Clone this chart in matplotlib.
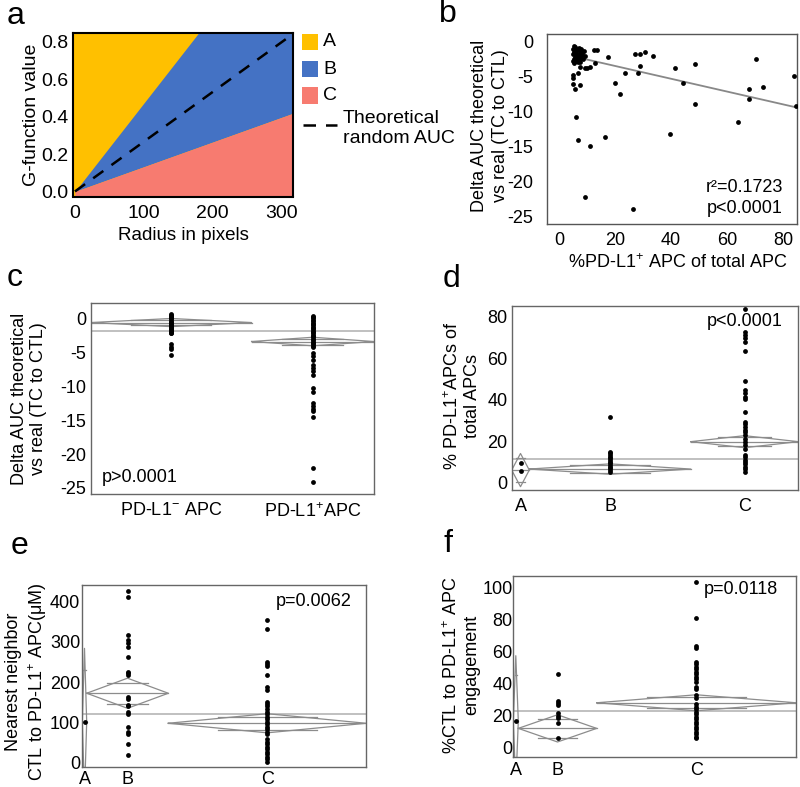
import numpy as np
import matplotlib
matplotlib.use("Agg")
import matplotlib.pyplot as plt
from matplotlib.patches import Rectangle
from matplotlib.lines import Line2D

plt.rcParams['font.family'] = ['Liberation Sans', 'DejaVu Sans']
plt.rcParams['mathtext.default'] = 'regular'
plt.rcParams['axes.unicode_minus'] = False

# ---- panel a : G-function regions
a_slope_A = 0.00472
a_slope_rand = 0.00266
a_slope_C = 0.00132
a_xlim = (-2.4, 316.8)
a_ylim = (-0.027, 0.845)
a_labels = ['A', 'B', 'C']
a_colors = ['#FFC000', '#4472C4', '#F77B70']

# ---- panel b : scatter + fit
b_x = [4.8, 5.0, 5.2, 5.3, 5.5, 5.6, 5.8, 6.0, 6.1, 6.3, 6.5, 6.6, 6.8, 7.0, 7.2,
       7.4, 7.6, 7.8, 8.0, 8.3, 8.6, 9.0, 5.1, 5.4, 5.9, 6.2, 6.9, 7.5, 8.1, 9.3,
       12.3, 13.7, 17.4, 12.9, 11.1, 9.9, 9.3, 7.5, 6.7, 4.8, 4.8, 4.8, 5.7, 7.5,
       5.9, 6.7, 11.1, 16.4, 20.0, 21.8, 23.7, 27.1, 28.9, 30.8, 33.5, 28.9, 28.1,
       9.3, 26.5, 39.6, 41.4, 44.2, 48.6, 48.6, 64.0, 67.6, 67.6, 70.2, 72.7, 83.7, 84.5]
b_y = [-1.0, -1.8, -2.5, -3.0, -1.4, -2.2, -0.8, -2.8, -1.6, -2.0, -1.2, -2.6, -1.9, -0.9, -2.3,
       -1.5, -2.9, -1.1, -2.1, -1.7, -2.4, -1.3, -2.7, -0.6, -2.0, -1.0, -2.9, -2.5, -1.4, -2.0,
       -1.2, -1.2, -2.2, -3.1, -3.6, -3.7, -3.7, -3.6, -4.4, -4.8, -5.2, -6.1, -6.8, -6.2,
       -10.7, -14.0, -14.9, -13.6, -5.85, -7.4, -4.4, -1.8, -1.8, -1.5, -2.0, -3.5, -4.4,
       -22.2, -23.9, -13.1, -3.7, -5.95, -3.2, -8.9, -11.4, -6.7, -8.1, -2.5, -6.5, -4.9, -9.1]
b_fit_slope = -0.0914
b_fit_intercept = -1.63
b_fit_range = (9.0, 85.0)

# ---- panel c
c_groups = [r'PD-L1$^{-}$ APC', r'PD-L1$^{+}$APC']
c_points = [
    [0.6, 0.45, 0.3, 0.15, 0.0, -0.15, -0.3, -0.45, -0.6, -0.75, -0.9, -1.05, -1.2,
     -1.35, -1.5, -1.65, -1.8, -1.95, -2.1, -2.2, -3.8, -4.15, -4.5, -5.4],
    [0.4, 0.2, 0.0, -0.2, -0.4, -0.6, -0.8, -1.0, -1.2, -1.4, -1.6, -1.8, -2.0, -2.2,
     -2.4, -2.6, -2.8, -3.0, -3.2, -3.4, -3.6, -3.8, -4.0, -4.25, -5.1, -5.6, -6.1,
     -6.8, -7.25, -7.8, -8.4, -10.2, -10.9, -12.5, -12.9, -13.35, -13.7, -14.5, -22.1, -24.1],
]
c_means = [-0.6, -3.4]
c_ci = [0.6, 0.63]
c_grand = -1.8

# ---- panel d
abc = ['A', 'B', 'C']
d_points = [
    [9.3, 5.8],
    [31.5, 14.9, 14.2, 13.3, 12.5, 11.8, 10.9, 10.1, 9.3, 8.5, 7.7, 6.9, 6.1, 5.3],
    [83.6, 72.8, 71.2, 69.6, 67.7, 63.6, 49.0, 44.7, 43.1, 41.5, 40.2, 33.9, 29.4,
     28.2, 26.9, 25.6, 24.5, 22.9, 21.3, 19.7, 18.0, 16.4, 13.6, 12.3, 11.0, 9.9,
     8.8, 7.5, 6.4, 5.1],
]
d_means = [6.1, 6.6, 19.8]
d_ci = [8.0, 2.5, 2.9]
d_grand = 11.6

# ---- panel e
e_points = [
    [102],
    [427, 412, 317, 305, 298, 288, 262, 226, 222, 218, 163, 158, 144, 140, 127, 121,
     88, 78, 72, 46, 20],
    [355, 332, 251, 245, 240, 218, 188, 181, 152, 146, 140, 133, 127, 121, 115, 108,
     102, 97, 90, 84, 78, 72, 59, 53, 47, 40, 35, 28, 22, 16, 10, 3],
]
e_means = [102, 172.8, 98.4]
e_ci = [182, 37.3, 23.7]
e_grand = 121

# ---- panel f
f_points = [
    [16.7],
    [45.9, 29.2, 27.7, 26.7, 21.5, 20.0, 18.4, 15.2, 6.3],
    [103.8, 81.3, 63.8, 62.5, 53.8, 52.3, 50.6, 49.2, 47.5, 45.9, 44.4, 42.9, 41.3,
     38.1, 36.7, 32.9, 31.3, 27.1, 25.6, 24.2, 22.5, 20.9, 19.4, 17.9, 16.2, 14.6,
     13.1, 11.7, 10.0, 8.6, 6.9, 5.9],
]
f_means = [16.7, 12.1, 28.1]
f_ci = [40.8, 8.5, 5.0]
f_grand = 23.1

W, H = 800, 787
FS = 13
fig = plt.figure(figsize=(W / 100, H / 100), dpi=100)


def fxy(x, y):
    return x / W, 1 - y / H


def axes_px(l, t, r, b):
    return fig.add_axes([l / W, 1 - b / H, (r - l) / W, (b - t) / H])


def ftext(x, y, s, **kw):
    kw.setdefault('fontsize', FS)
    fig.text(*fxy(x, y), s, **kw)


def style(ax, col='#666666', lw=1.0, xpad=6, ypad=3):
    for sp in ax.spines.values():
        sp.set_color(col)
        sp.set_linewidth(lw)
    ax.tick_params(length=0, labelsize=FS)
    ax.tick_params(axis='x', pad=xpad)
    ax.tick_params(axis='y', pad=ypad)


def diamonds(ax, widths, points, means, ci, grand, labels):
    edges = np.concatenate([[0], np.cumsum(widths)])
    edges = edges / edges[-1]
    centers = (edges[:-1] + edges[1:]) / 2
    ax.axhline(grand, color='#BBBBBB', lw=1.3, zorder=1)
    dc = '#8C8C8C'
    for i in range(len(means)):
        l, r, c = edges[i], edges[i + 1], centers[i]
        m, h = means[i], ci[i]
        ax.plot([l, c, r, c, l], [m, m + h, m, m - h, m], color=dc, lw=0.9, zorder=2)
        ax.plot([l, r], [m, m], color=dc, lw=0.9, zorder=2)
        o = h / np.sqrt(2)
        q = (r - l) / 4
        ax.plot([c - q, c + q], [m + o, m + o], color=dc, lw=0.9, zorder=2)
        ax.plot([c - q, c + q], [m - o, m - o], color=dc, lw=0.9, zorder=2)
        ax.scatter([c] * len(points[i]), points[i], s=12, color='black', lw=0, zorder=3)
    ax.set_xlim(0, 1)
    ax.set_xticks(centers)
    ax.set_xticklabels(labels)


# ---------------- a
ax = axes_px(73.3, 33.3, 293.3, 196.5)
xs = np.linspace(0, a_xlim[1], 600)
top = a_ylim[1]
yA = np.minimum(a_slope_A * xs, top)
yC = a_slope_C * xs
ax.set_facecolor(a_colors[0])
ax.fill_between(xs, yA, top, color=a_colors[0], lw=0)
ax.fill_between(xs, yC, yA, color=a_colors[1], lw=0)
ax.fill_between(xs, a_ylim[0], yC, color=a_colors[2], lw=0)
ax.plot(xs, a_slope_rand * xs, color='black', lw=1.8, dashes=(5, 4))
ax.set_xlim(*a_xlim)
ax.set_ylim(*a_ylim)
ax.set_xticks([0, 100, 200, 300])
ax.set_yticks([0.0, 0.2, 0.4, 0.6, 0.8])
ax.set_yticklabels(['0.0', '0.2', '0.4', '0.6', '0.8'])
style(ax, col='black', lw=1.5, xpad=6, ypad=3.5)
ax.tick_params(labelsize=14)
ftext(183, 235, 'Radius in pixels', ha='center', va='center', fontsize=13.5)
ftext(32, 114.5, 'G-function value', rotation=90, ha='center', va='center', fontsize=14)
for i, (lab, col) in enumerate(zip(a_labels, a_colors)):
    y0 = 33.5 + i * 27
    fig.add_artist(Rectangle(fxy(301.7, y0 + 16.7), 16.6 / W, 16.7 / H,
                             transform=fig.transFigure, facecolor=col, edgecolor='none'))
    ftext(323, y0 + 8.5, lab, ha='left', va='center', fontsize=14)
fig.add_artist(Line2D([303 / W, 337 / W], [1 - 125 / H, 1 - 125 / H], color='black',
                      lw=1.8, dashes=(5, 4), transform=fig.transFigure))
ftext(343, 128.5, 'Theoretical\nrandom AUC', ha='left', va='center', fontsize=14,
      linespacing=1.25)

# ---------------- b
ax = axes_px(547.3, 34.3, 797.3, 224)
ax.scatter(b_x, b_y, s=12, color='black', lw=0, zorder=3)
fx = np.array(b_fit_range)
ax.plot(fx, b_fit_slope * fx + b_fit_intercept, color='#888888', lw=1.3, zorder=2)
ax.set_xlim(-4.2, 85.0)
ax.set_ylim(-26.0, 1.06)
ax.set_xticks([0, 20, 40, 60, 80])
ax.set_yticks([0, -5, -10, -15, -20, -25])
style(ax, col='#555555', xpad=6, ypad=10)
ax.text(0.942, 0.19, 'r²=0.1723', transform=ax.transAxes, ha='right', va='center', fontsize=FS)
ax.text(0.942, 0.084, 'p<0.0001', transform=ax.transAxes, ha='right', va='center', fontsize=FS)
ftext(678, 263, r'%PD-L1$^{+}$ APC of total APC', ha='center', va='center')
ftext(490, 126, 'Delta AUC theoretical\nvs real (TC to CTL)', rotation=90, ha='center',
      va='center', linespacing=1.35)

# ---------------- c
ax = axes_px(90.7, 303.3, 374, 494)
diamonds(ax, [161.3, 122.7], c_points, c_means, c_ci, c_grand, c_groups)
ax.set_ylim(-25.9, 2.24)
ax.set_yticks([0, -5, -10, -15, -20, -25])
style(ax, xpad=6, ypad=3)
ax.text(0.039, 0.085, 'p>0.0001', transform=ax.transAxes, ha='left', va='center', fontsize=FS)
ftext(29, 399, 'Delta AUC theoretical\nvs real (TC to CTL)', rotation=90, ha='center',
      va='center', linespacing=1.2)

# ---------------- d
ax = axes_px(511.7, 306, 798.3, 490)
diamonds(ax, [17.6, 161.4, 107.6], d_points, d_means, d_ci, d_grand, abc)
ax.set_ylim(-3.5, 85.2)
ax.set_yticks([0, 20, 40, 60, 80])
style(ax, xpad=6, ypad=3)
ax.text(0.947, 0.915, 'p<0.0001', transform=ax.transAxes, ha='right', va='center', fontsize=FS)
ftext(462, 396, r'% PD-L1$^{+}$APCs of' + '\ntotal APCs', rotation=90, ha='center',
      va='center', linespacing=1.15)

# ---------------- e
ax = axes_px(82.3, 585, 366, 767.3)
diamonds(ax, [4.4, 81.6, 197.7], e_points, e_means, e_ci, e_grand, abc)
ax.set_ylim(-10.7, 441)
ax.set_yticks([0, 100, 200, 300, 400])
style(ax, xpad=3, ypad=1.5)
ax.text(0.95, 0.908, 'p=0.0062', transform=ax.transAxes, ha='right', va='center', fontsize=FS)
ftext(27, 682, 'Nearest neighbor\n' + r'CTL to PD-L1$^{+}$ APC(μM)', rotation=90,
      ha='center', va='center', linespacing=1.2)

# ---------------- f
ax = axes_px(513.3, 575.7, 796, 756.7)
diamonds(ax, [5.0, 78.4, 199.3], f_points, f_means, f_ci, f_grand, abc)
ax.set_ylim(-5.6, 107.5)
ax.set_yticks([0, 20, 40, 60, 80, 100])
style(ax, xpad=4, ypad=0.5)
ax.text(0.936, 0.921, 'p=0.0118', transform=ax.transAxes, ha='right', va='center', fontsize=FS)
ftext(461, 665, r'%CTL to PD-L1$^{+}$ APC' + '\nengagement', rotation=90, ha='center',
      va='center', linespacing=1.2)

# panel letters
for lab, (x, y) in zip('abcdef', [(16, 16), (448, 14), (15, 278), (451, 279),
                                   (19, 546), (448, 544)]):
    ftext(x, y, lab, ha='center', va='center', fontsize=23)

fig.savefig('out.png', dpi=100)
